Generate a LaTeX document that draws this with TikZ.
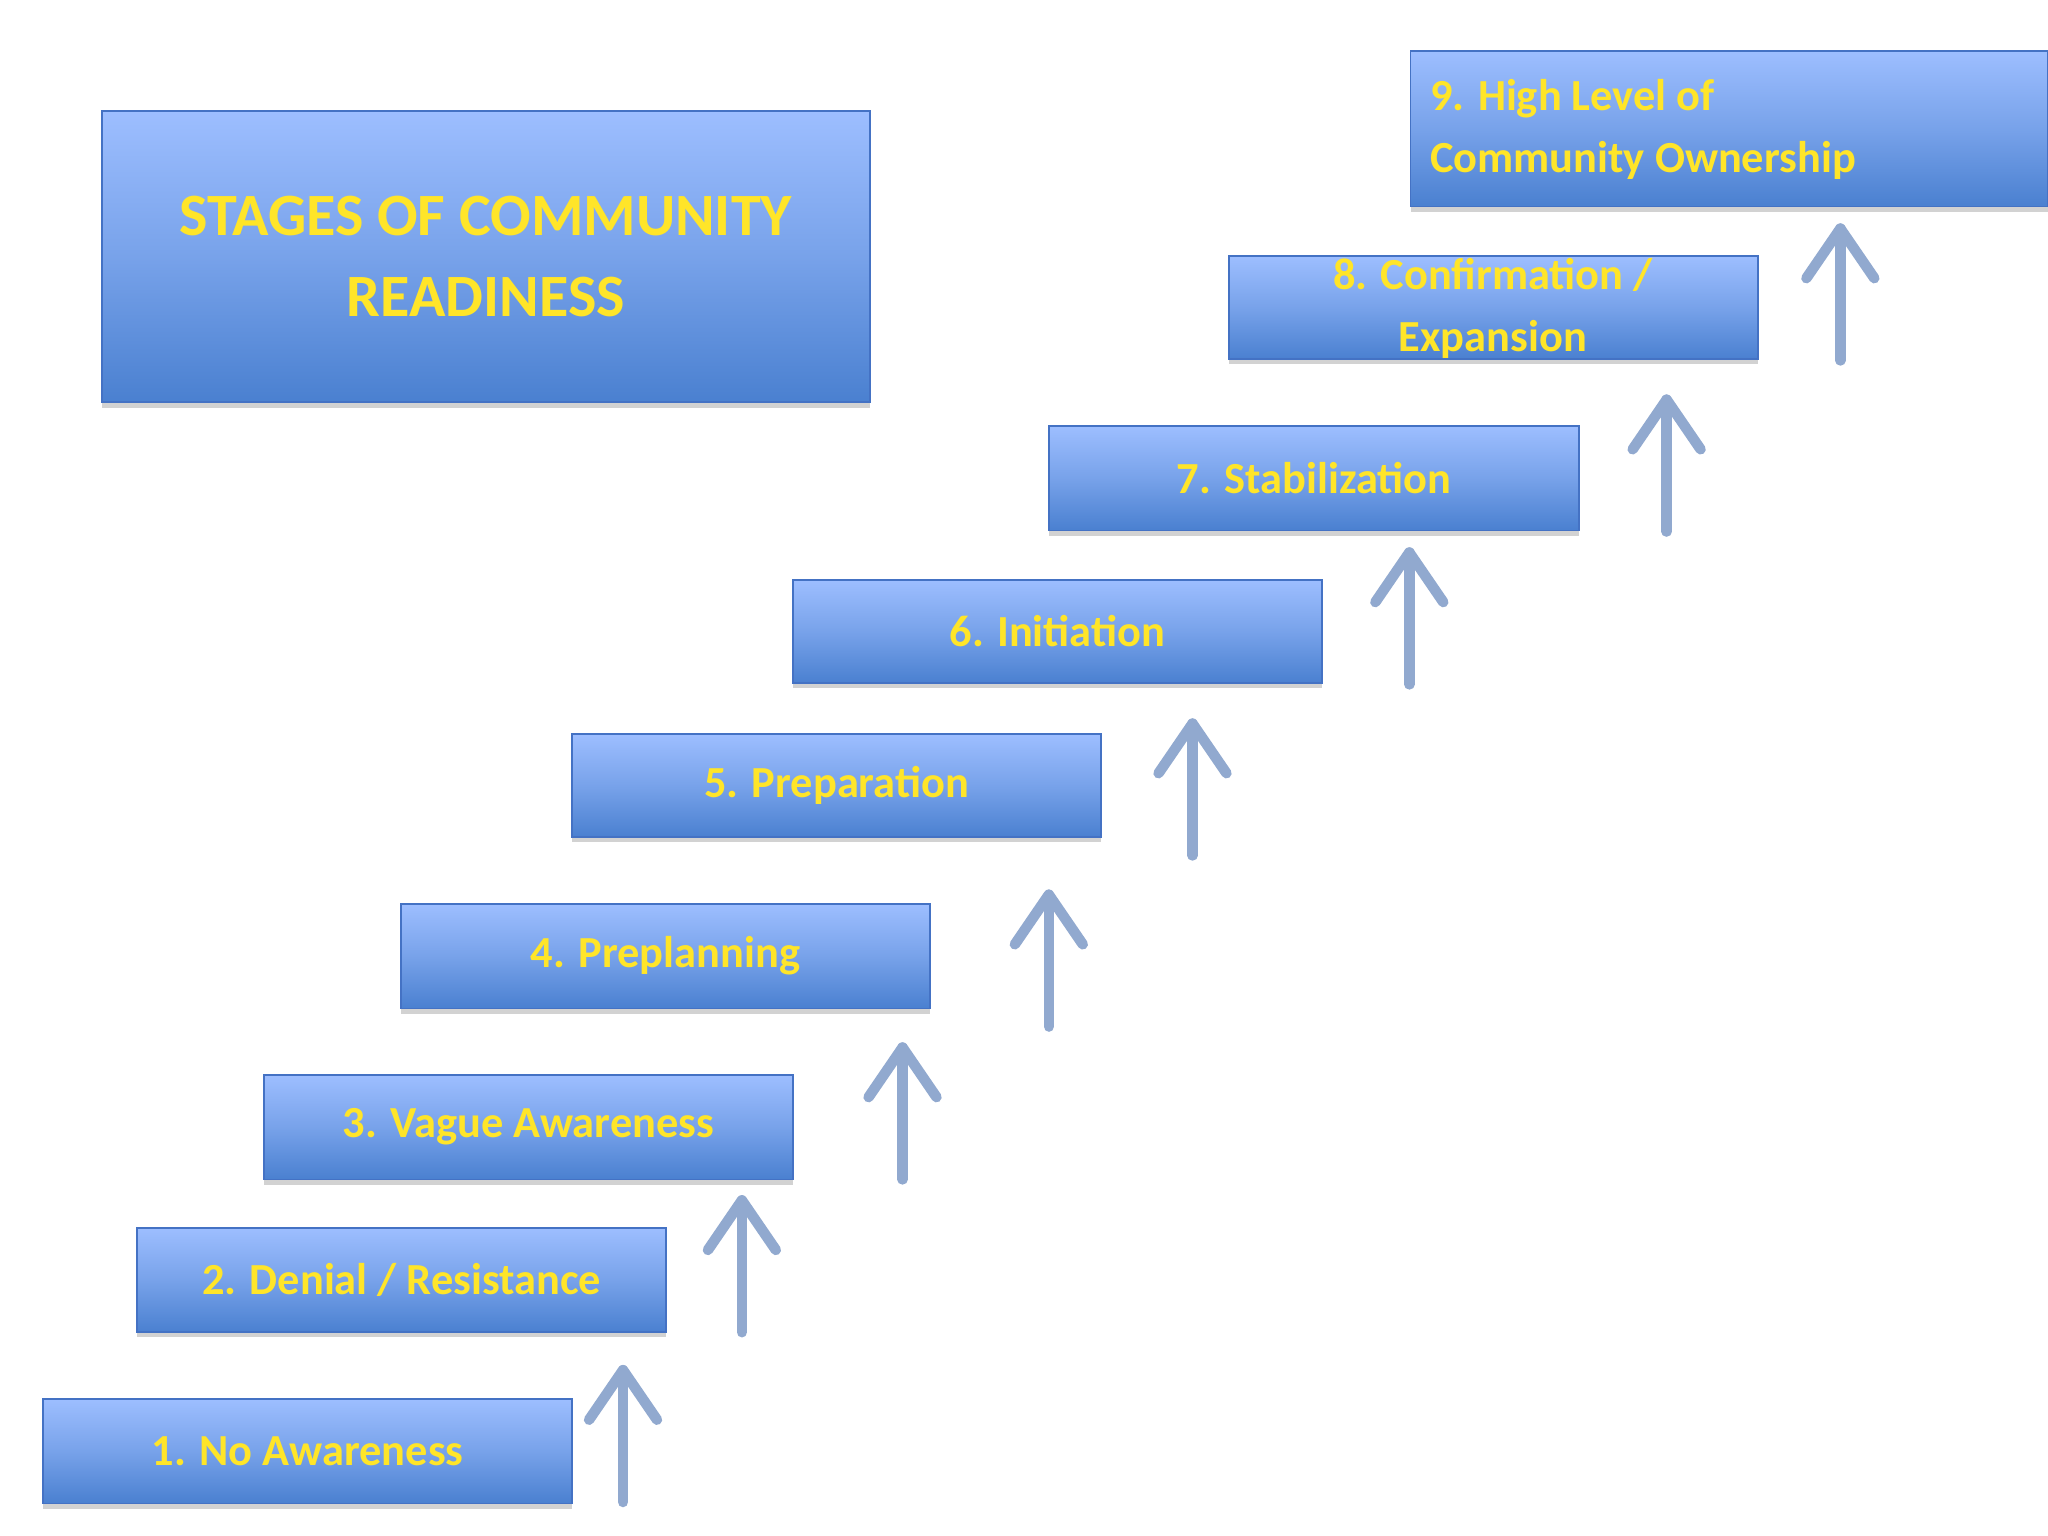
\documentclass[tikz,border=0pt]{standalone}
\usepackage{fontspec}
\setmainfont{Carlito}
\begin{document}
\begin{tikzpicture}[x=0.5pt,y=-0.5pt,
  stagebox/.style={draw=none},
  lbl/.style={text=yellow!85!orange!90!white,font=\bfseries\fontsize{17}{24}\selectfont,align=center},
  arr/.style={draw=arrowc,line width=4pt,line cap=round,line join=round}]
\definecolor{topc}{HTML}{9DBEFF}
\definecolor{botc}{HTML}{4A80D0}
\definecolor{edgec}{HTML}{4472C4}
\definecolor{arrowc}{HTML}{91A9CF}
\definecolor{txtc}{HTML}{FFE529}
\useasboundingbox (0,0) rectangle (1568,1176);
\fill[white] (0,0) rectangle (1568,1176);
\newcommand{\stg}[5]{%
  \fill[gray!35] (#1,#4) rectangle (#3,#4+4);
  \shade[top color=topc,bottom color=botc,middle color=topc!55!botc] (#1,#2) rectangle (#3,#4);
  \draw[edgec,line width=0.6pt] (#1,#2) rectangle (#3,#4);
  \coordinate (#5) at ({(#1+#3)/2},{(#2+#4)/2});}
\stg{78}{85}{666}{308}{t}
\node[lbl,text=txtc,font=\bfseries\fontsize{23}{31}\selectfont] (tt) at (t) {STAGES OF COMMUNITY\\READINESS};
\stg{1080}{39}{1568}{158}{s9}
\node[lbl,text=txtc,align=left,anchor=west] (n9) at (1088,99) {9. High Level of\\Community Ownership};
\stg{941}{196}{1346}{275}{s8}
\node[lbl,text=txtc] (n8) at (1143,236) {8. Confirmation /\\Expansion};
\stg{803}{326}{1209}{406}{s7}
\node[lbl,text=txtc] (n7) at (s7) {7. Stabilization};
\stg{607}{444}{1012}{523}{s6}
\node[lbl,text=txtc] (n6) at (s6) {6. Initiation};
\stg{438}{562}{843}{641}{s5}
\node[lbl,text=txtc] (n5) at (s5) {5. Preparation};
\stg{307}{692}{712}{772}{s4}
\node[lbl,text=txtc] (n4) at (s4) {4. Preplanning};
\stg{202}{823}{607}{903}{s3}
\node[lbl,text=txtc] (n3) at (s3) {3. Vague Awareness};
\stg{105}{940}{510}{1020}{s2}
\node[lbl,text=txtc] (n2) at (s2) {2. Denial / Resistance};
\stg{33}{1071}{438}{1151}{s1}
\node[lbl,text=txtc] (n1) at (s1) {1. No Awareness};
\foreach \x/\y in {477/1047,568/917,691/800,803/683,913/552,1079/421,1276/304,1409/173}{
  \draw[arr] (\x,\y+103) -- (\x,\y+2);
  \draw[arr] (\x-26,\y+40) -- (\x,\y+2) -- (\x+26,\y+40);
}
\end{tikzpicture}
\end{document}
